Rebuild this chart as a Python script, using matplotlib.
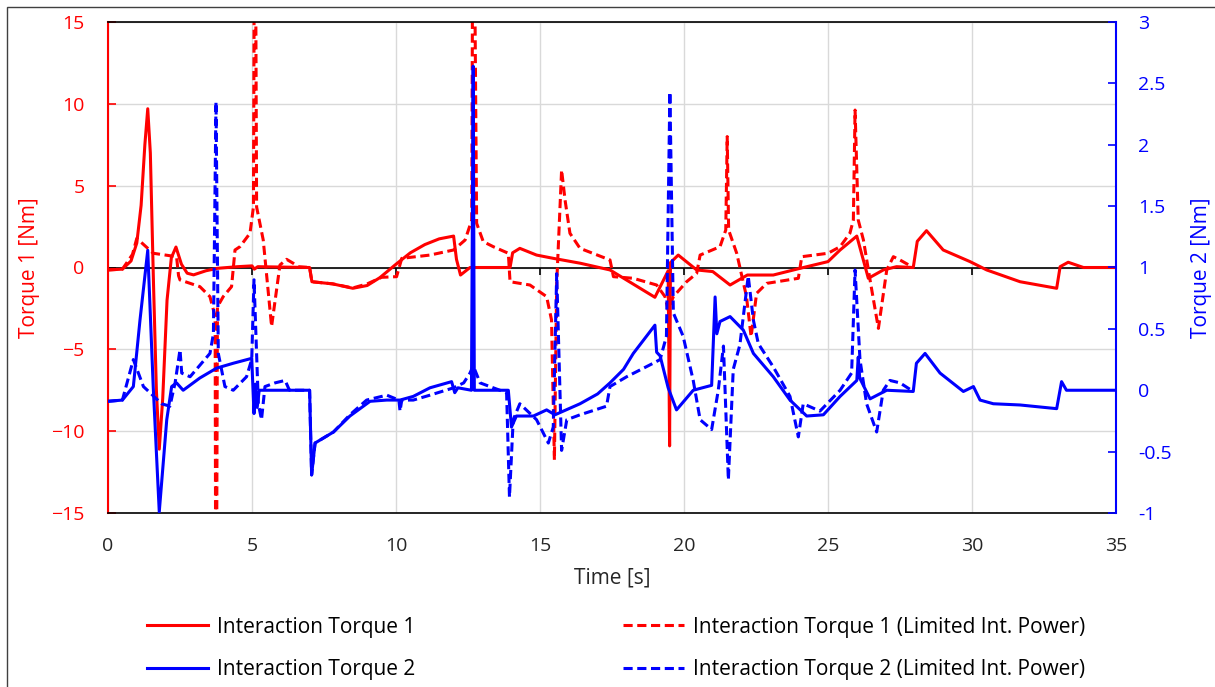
import numpy as np
import matplotlib
matplotlib.use("Agg")
import matplotlib.pyplot as plt
from matplotlib.patches import Rectangle

plt.rcParams['font.family'] = ['Open Sans', 'DejaVu Sans']

# Interaction Torque 1 (left axis)
t1_time = [0.0, 0.5, 0.8, 1.0, 1.15, 1.28, 1.38, 1.47, 1.58, 1.68, 1.78, 1.9, 2.05, 2.2, 2.36,
           2.55, 2.75, 2.97, 3.4, 3.8, 4.5, 5.0, 5.08, 5.2, 7.0, 7.08, 7.8, 8.5, 9.0, 9.44,
           10.0, 10.5, 11.0, 11.5, 12.0, 12.1, 12.24, 12.57, 13.96, 14.05, 14.3, 14.88, 15.46,
           16.4, 17.43, 18.99, 19.45, 19.5, 19.53, 19.8, 20.44, 21.0, 21.6, 22.2, 23.1, 24.03,
           25.0, 25.42, 26.0, 26.4, 26.92, 27.38, 27.96, 28.1, 28.42, 29.0, 29.93, 30.51,
           31.67, 32.94, 33.06, 33.34, 33.87, 35.0]
t1_val = [-0.15, -0.1, 0.4, 1.5, 3.8, 7.5, 9.7, 7.0, -1.0, -7.5, -11.1, -8.0, -2.0, 0.6, 1.25,
          0.2, -0.35, -0.45, -0.2, -0.05, 0.05, 0.1, -0.1, 0.05, 0.0, -0.87, -1.0, -1.27, -1.1, -0.62,
          0.2, 0.9, 1.4, 1.75, 1.92, 0.5, -0.46, 0.0, 0.0, 0.9, 1.17, 0.76, 0.56,
          0.26, -0.15, -1.82, -0.2, -10.9, 0.3, 0.76, -0.15, -0.25, -1.07, -0.46, -0.46, -0.05,
          0.36, 1.07, 1.92, -0.66, -0.15, 0.05, 0.0, 1.6, 2.25, 1.07, 0.36, -0.15,
          -0.87, -1.27, 0.05, 0.32, 0.0, 0.0]

# Interaction Torque 1 (Limited Int. Power)
t1l_time = [0.0, 0.5, 0.85, 1.0, 1.57, 2.38, 2.45, 2.5, 3.19, 3.54, 3.72, 3.75, 3.8, 4.0, 4.29,
            4.41, 4.58, 4.93, 5.05, 5.1, 5.16, 5.39, 5.68, 5.97, 6.2, 6.43, 6.6, 7.0, 7.08, 7.8,
            8.5, 9.0, 9.5, 10.02, 10.2, 11.18, 12.0, 12.4, 12.63, 12.68, 12.8, 13.03, 13.38, 13.9,
            13.96, 14.65, 15.23, 15.4, 15.5, 15.58, 15.75, 15.87, 16.04, 16.39, 17.43, 17.55, 18.24,
            19.05, 19.34, 19.45, 19.63, 20.09, 20.44, 20.56, 21.25, 21.45, 21.5, 21.55, 21.83, 22.17,
            22.33, 22.52, 22.87, 23.97, 24.09, 25.0, 25.42, 25.76, 25.88, 25.94, 26.05, 26.23,
            26.46, 26.75, 27.04, 27.27, 27.5, 27.96]
t1l_val = [-0.15, -0.1, 0.8, 1.78, 0.87, 0.66, -0.5, -0.76, -1.17, -1.78, -3.0, -30.0, -2.4, -1.78, -1.17,
           1.07, 1.27, 2.09, 3.7, 30.0, 3.7, 1.68, -3.6, 0.15, 0.5, 0.26, 0.05, 0.0, -0.87, -1.0,
           -1.25, -1.0, -0.6, -0.56, 0.56, 0.76, 1.07, 1.68, 2.9, 30.0, 2.7, 1.58, 1.27, 0.87,
           -0.87, -1.07, -1.78, -3.2, -11.76, -1.0, 5.96, 4.12, 2.09, 1.17, 0.46, -0.56, -0.66,
           -1.07, -1.78, -2.6, -1.78, -0.87, -0.36, 0.76, 1.27, 2.29, 8.0, 2.29, 0.87, -1.78,
           -4.23, -1.58, -0.97, -0.66, 0.66, 0.87, 1.27, 2.09, 2.9, 9.62, 2.9, 1.68,
           -0.76, -3.72, -0.15, 0.66, 0.46, 0.0]

# Interaction Torque 2 (right axis)
t2_time = [0.0, 0.5, 0.88, 1.11, 1.38, 1.57, 1.78, 2.04, 2.21, 2.38, 2.61, 3.19, 3.77, 4.35, 4.99,
           5.07, 5.12, 5.18, 5.25, 7.0, 7.07, 7.19, 7.83, 8.4, 9.1, 9.68, 10.14, 10.6, 11.18,
           11.93, 12.04, 12.15, 12.62, 12.68, 12.72, 13.9, 14.01, 14.18, 14.77, 15.23, 15.52,
           16.39, 17.0, 17.43, 17.9, 18.24, 18.6, 18.99, 19.05, 19.17, 19.45, 19.74, 20.32, 20.96,
           21.08, 21.14, 21.25, 21.6, 22.06, 22.41, 23.1, 23.68, 24.26, 24.84, 25.42, 26.0, 26.05,
           26.1, 26.46, 27.04, 27.96, 28.07, 28.37, 28.89, 29.7, 30.05, 30.28, 30.74, 31.67, 32.94,
           33.11, 33.28, 35.0]
t2_val = [-0.09, -0.08, 0.03, 0.57, 1.14, 0.03, -0.99, -0.24, 0.03, 0.06, 0.0, 0.1, 0.18, 0.22, 0.26,
          -0.19, 0.05, -0.14, 0.0, 0.0, -0.69, -0.43, -0.34, -0.21, -0.09, -0.08, -0.08, -0.05, 0.02,
          0.07, -0.02, 0.02, 0.0, 2.64, 0.0, 0.0, -0.3, -0.21, -0.21, -0.16, -0.2,
          -0.11, -0.03, 0.06, 0.17, 0.3, 0.41, 0.53, 0.31, 0.28, 0.02, -0.16, 0.0, 0.04,
          0.76, 0.46, 0.56, 0.6, 0.49, 0.3, 0.11, -0.08, -0.21, -0.2, -0.05, 0.08, 0.27,
          0.1, -0.07, 0.0, -0.01, 0.22, 0.3, 0.14, -0.01, 0.03, -0.08, -0.11, -0.12, -0.15,
          0.07, 0.0, 0.0]

# Interaction Torque 2 (Limited Int. Power)
t2l_time = [0.0, 0.5, 0.88, 1.23, 1.46, 1.86, 2.15, 2.33, 2.5, 2.56, 2.85, 3.54, 3.66, 3.75, 3.83,
            4.06, 4.35, 4.81, 4.99, 5.07, 5.22, 5.33, 5.45, 5.8, 6.15, 6.3, 7.0, 7.07, 7.19, 7.83,
            8.4, 8.98, 9.68, 10.1, 10.14, 10.2, 10.6, 11.18, 12.0, 12.35, 12.57, 12.68, 12.92,
            13.26, 13.84, 13.94, 14.07, 14.3, 14.88, 15.29, 15.46, 15.58, 15.75, 15.93, 16.39,
            17.31, 17.43, 18.01, 18.93, 19.17, 19.39, 19.51, 19.63, 19.97, 20.32, 20.56, 20.96,
            21.19, 21.37, 21.54, 21.71, 21.94, 22.23, 22.41, 22.58, 23.1, 23.68, 23.97, 24.14,
            24.72, 25.42, 25.82, 25.94, 26.11, 26.34, 26.69, 26.92, 27.15, 27.5, 27.96]
t2l_val = [-0.09, -0.08, 0.25, 0.03, -0.02, -0.11, -0.13, 0.06, 0.33, 0.14, 0.11, 0.3, 0.46, 2.35, 0.3,
           0.03, 0.0, 0.11, 0.25, 0.9, -0.11, -0.24, 0.03, 0.06, 0.08, 0.0, 0.0, -0.69, -0.43, -0.34,
           -0.2, -0.08, -0.04, -0.08, -0.17, -0.08, -0.08, -0.04, 0.02, 0.06, 0.14, 0.2, 0.06,
           0.03, -0.02, -0.87, -0.24, -0.11, -0.24, -0.43, -0.3, 0.95, -0.49, -0.24, -0.2,
           -0.13, 0.03, 0.11, 0.22, 0.25, 0.44, 2.43, 0.63, 0.44, 0.08, -0.24, -0.32,
           0.0, 0.36, -0.73, 0.17, 0.37, 0.93, 0.57, 0.38, 0.19, -0.05, -0.38, -0.11,
           -0.17, 0.0, 0.14, 0.98, 0.25, -0.11, -0.34, 0.0, 0.08, 0.06, -0.01]

x_ticks = [0, 5, 10, 15, 20, 25, 30, 35]
y1_ticks = [-15, -10, -5, 0, 5, 10, 15]
y2_ticks = [-1, -0.5, 0, 0.5, 1, 1.5, 2, 2.5, 3]
y2_labels = ['-1', '-0.5', '0', '0.5', '1', '1.5', '2', '2.5', '3']

RED = '#ff0000'
BLUE = '#0000ff'
FS = 14
FS_L = 15
dash = (0, (3, 1.5))

fig = plt.figure(figsize=(12.15, 6.87), dpi=100)
fig.patches.append(Rectangle((7 / 1215, -0.1), 1.2, 1.1 - 7 / 687, transform=fig.transFigure,
                             fill=False, edgecolor='#404040', lw=1.0))

ax = fig.add_axes([108 / 1215, 1 - 513 / 687, 1008 / 1215, 491 / 687])
ax2 = ax.twinx()

# grid + zero axis line
ax.set_xlim(0, 35)
ax.set_ylim(-15, 15)
ax.set_xticks(x_ticks)
ax.set_yticks(y1_ticks)
ax.grid(True, color='#d9d9d9', lw=1.0, zorder=0)
ax.set_axisbelow(True)
ax.axhline(0, color='black', lw=1.2, zorder=1)
ax.vlines(x_ticks, -0.45, 0, color='black', lw=1.2, zorder=1)

l1, = ax.plot(t1_time, t1_val, color=RED, lw=2.2, zorder=3, label='Interaction Torque 1')
l2, = ax.plot(t1l_time, t1l_val, color=RED, lw=2.2, ls=dash, zorder=2,
              label='Interaction Torque 1 (Limited Int. Power)')

l3, = ax2.plot(t2_time, t2_val, color=BLUE, lw=2.2, zorder=3, label='Interaction Torque 2')
l4, = ax2.plot(t2l_time, t2l_val, color=BLUE, lw=2.2, ls=dash, zorder=2,
               label='Interaction Torque 2 (Limited Int. Power)')
ax2.set_ylim(-1, 3)
ax2.set_yticks(y2_ticks)
ax2.set_yticklabels(y2_labels)

# spines
for s in ['top', 'bottom']:
    ax.spines[s].set_color('black')
    ax.spines[s].set_linewidth(1.2)
    ax2.spines[s].set_visible(False)
ax.spines['left'].set_color(RED)
ax.spines['left'].set_linewidth(1.5)
ax.spines['right'].set_visible(False)
ax2.spines['left'].set_visible(False)
ax2.spines['right'].set_color(BLUE)
ax2.spines['right'].set_linewidth(1.5)

ax.tick_params(axis='x', length=0, pad=17, labelsize=FS, labelcolor='#262626')
ax.tick_params(axis='y', direction='in', length=6, width=1.2, color=RED, pad=17,
               labelsize=FS, labelcolor=RED)
ax2.tick_params(axis='y', direction='in', length=6, width=1.2, color=BLUE, pad=16,
                labelsize=FS, labelcolor=BLUE)

ax.set_xlabel('Time [s]', fontsize=FS_L, color='#262626', labelpad=9)
ax.set_ylabel('Torque 1 [Nm]', fontsize=FS_L, color=RED, labelpad=8)
ax2.set_ylabel('Torque 2 [Nm]', fontsize=FS_L, color=BLUE, labelpad=14)

fig.legend([l1, l3, l2, l4], [l1.get_label(), l3.get_label(), l2.get_label(), l4.get_label()],
           ncol=2, loc='center', bbox_to_anchor=(0.507, 0.056), frameon=False, fontsize=FS_L,
           handlelength=2.9, handletextpad=0.43, columnspacing=10.0, labelspacing=1.05)

plt.savefig("out.png", dpi=100)
